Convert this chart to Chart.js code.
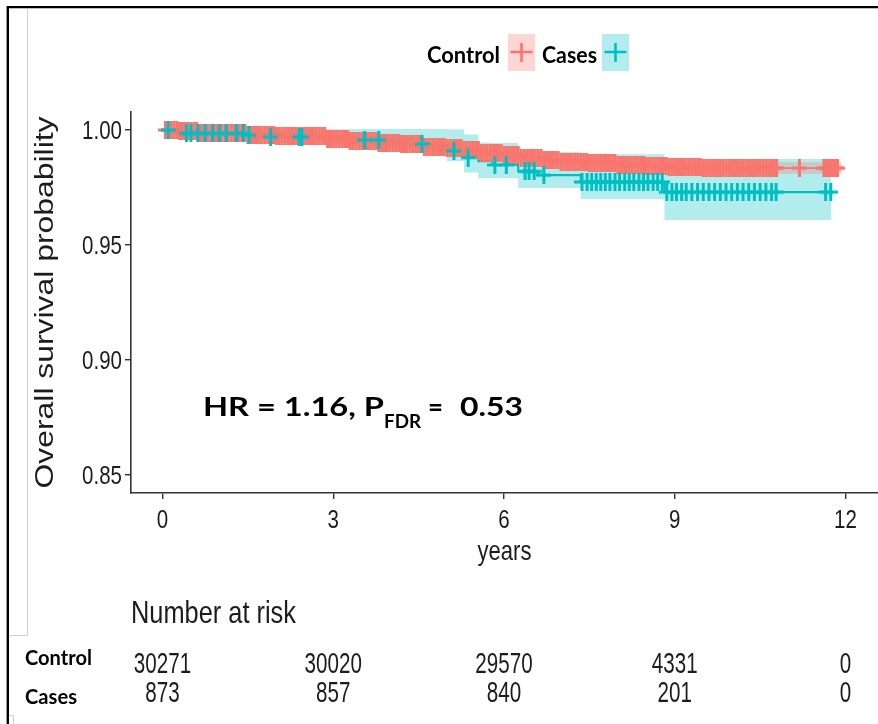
<!DOCTYPE html>
<html>
<head>
<meta charset="utf-8">
<script src="https://cdn.jsdelivr.net/npm/chart.js@4.4.0/dist/chart.umd.min.js"></script>
<style>
  html, body { margin: 0; padding: 0; background: #fff; }
  canvas { display: block; }
</style>
</head>
<body>
<canvas id="km" width="878" height="724"></canvas>
<script>
// axis ticks
const xTicks = [0, 3, 6, 9, 12];
const yTicks = [0.85, 0.90, 0.95, 1.00];

// Control: Kaplan-Meier estimate with confidence band
const ctrlTimes = [0, 0.3, 0.65, 1.0, 1.5, 2.0, 2.4, 2.9, 3.3, 3.8, 4.2, 4.6, 5.0, 5.3, 5.6, 6.0, 6.3, 6.7, 7.0, 7.5, 8.0, 8.5, 8.9, 9.5, 10.3, 10.8, 11.93];
const ctrlSurv  = [1.0, .9994, .9989, .9985, .9980, .9976, .9972, .9963, .9952, .9944, .9937, .9928, .9920, .9911, .9900, .9891, .9878, .9870, .9863, .9857, .9850, .9844, .9838, .9835, .9834, .9834, .9834];
const ctrlUpper = [1.0, .9995, .9991, .9987, .9983, .9979, .9975, .9967, .9956, .9948, .9942, .9933, .9925, .9916, .9906, .9897, .9884, .9876, .9870, .9864, .9857, .9852, .9846, .9844, .9844, .9860, .9860];
const ctrlLower = [1.0, .9993, .9987, .9983, .9977, .9973, .9969, .9959, .9948, .9940, .9932, .9923, .9915, .9906, .9894, .9885, .9872, .9864, .9856, .9850, .9843, .9836, .9830, .9826, .9824, .9810, .9810];

// Cases
const caseTimes = [0, 0.3, 1.5, 1.9, 3.4, 4.4, 5.0, 5.3, 5.55, 5.8, 6.25, 6.6, 7.35, 8.82, 11.75];
const caseSurv  = [1.0, .9985, .9977, .9970, .9957, .9939, .9909, .9880, .9865, .9848, .9820, .9804, .9774, .9730, .9730];
const caseUpper = [1.0, 1.0, 1.0, 1.0003, 1.0004, 1.0004, 1.0003, .9980, .9946, .9943, .9904, .9904, .9895, .9874, .9874];
const caseLower = [1.0, .9975, .9960, .9945, .9925, .9900, .9865, .9815, .9790, .9790, .9748, .9748, .9700, .9609, .9609];

// censoring times (marks); control is censored almost continuously
const ctrlCensor = [
  0.05, 0.1, 0.15, 0.2, 0.25, 0.3, 0.35, 0.4, 0.45, 0.5, 0.55, 0.6, 0.65, 0.7, 0.75, 0.8, 0.85, 0.9, 0.95, 1.0,
  1.05, 1.1, 1.15, 1.2, 1.25, 1.3, 1.35, 1.4, 1.45, 1.5, 1.55, 1.6, 1.65, 1.7, 1.75, 1.8, 1.85, 1.9, 1.95, 2.0,
  2.05, 2.1, 2.15, 2.2, 2.25, 2.3, 2.35, 2.4, 2.45, 2.5, 2.55, 2.6, 2.65, 2.7, 2.75, 2.8, 2.85, 2.9, 2.95, 3.0,
  3.05, 3.1, 3.15, 3.2, 3.25, 3.3, 3.35, 3.4, 3.45, 3.5, 3.55, 3.6, 3.65, 3.7, 3.75, 3.8, 3.85, 3.9, 3.95, 4.0,
  4.05, 4.1, 4.15, 4.2, 4.25, 4.3, 4.35, 4.4, 4.45, 4.5, 4.55, 4.6, 4.65, 4.7, 4.75, 4.8, 4.85, 4.9, 4.95, 5.0,
  5.05, 5.1, 5.15, 5.2, 5.25, 5.3, 5.35, 5.4, 5.45, 5.5, 5.55, 5.6, 5.65, 5.7, 5.75, 5.8, 5.85, 5.9, 5.95, 6.0,
  6.05, 6.1, 6.15, 6.2, 6.25, 6.3, 6.35, 6.4, 6.45, 6.5, 6.55, 6.6, 6.65, 6.7, 6.75, 6.8, 6.85, 6.9, 6.95, 7.0,
  7.05, 7.1, 7.15, 7.2, 7.25, 7.3, 7.35, 7.4, 7.45, 7.5, 7.55, 7.6, 7.65, 7.7, 7.75, 7.8, 7.85, 7.9, 7.95, 8.0,
  8.05, 8.1, 8.15, 8.2, 8.25, 8.3, 8.35, 8.4, 8.45, 8.5, 8.55, 8.6, 8.65, 8.7, 8.75, 8.8, 8.85, 8.9, 8.95, 9.0,
  9.05, 9.1, 9.15, 9.2, 9.25, 9.3, 9.35, 9.4, 9.45, 9.5, 9.55, 9.6, 9.65, 9.7, 9.75, 9.8, 9.85, 9.9, 9.95, 10.0,
  10.05, 10.1, 10.15, 10.2, 10.25, 10.3, 10.35, 10.4, 10.45, 10.5, 10.55, 10.6, 10.65, 10.7, 10.75, 10.79,
  11.19, 11.62, 11.66, 11.7, 11.74, 11.78, 11.82, 11.86];
const caseCensor = [0.1, 0.42, 0.5, 0.62, 0.75, 0.88, 1.0, 1.12, 1.3, 1.42, 1.52, 1.9, 2.4, 2.45, 3.55, 3.8, 4.56, 5.12, 5.37,
  5.84, 6.04, 6.37, 6.44, 6.53, 6.7, 7.37, 7.46, 7.54, 7.62, 7.7, 7.78, 7.86, 7.95, 8.03, 8.12, 8.2, 8.28, 8.37, 8.45,
  8.53, 8.62, 8.7, 8.78, 8.86, 8.95, 9.03, 9.12, 9.2, 9.3, 9.4, 9.5, 9.6, 9.7, 9.8, 9.9, 10.0, 10.1, 10.2, 10.3, 10.4,
  10.5, 10.6, 10.7, 10.78, 11.65, 11.74];

// number at risk
const riskTimes = [0, 3, 6, 9, 12];
const riskControl = [30271, 30020, 29570, 4331, 0];
const riskCases = [873, 857, 840, 201, 0];

const RED = '#F8766D', TEAL = '#00BFC4';
const RED_A = 'rgba(248,118,109,0.3)', TEAL_A = 'rgba(0,191,196,0.3)';

function stepAt(times, vals, t) {
  let v = vals[0];
  for (let i = 0; i < times.length; i++) {
    if (times[i] <= t) v = vals[i];
  }
  return v;
}
const km = (times, vals) => times.map((t, i) => ({ x: t, y: vals[i] }));
const marks = (cens, times, vals) => cens.map(t => ({ x: t, y: stepAt(times, vals, t) }));

function makeCross(color) {
  const c = document.createElement('canvas');
  c.width = 15; c.height = 18;
  const g = c.getContext('2d');
  g.strokeStyle = color;
  g.lineWidth = 3;
  g.beginPath();
  g.moveTo(0, 9); g.lineTo(15, 9);
  g.moveTo(7.5, 0); g.lineTo(7.5, 18);
  g.stroke();
  return c;
}

function squish(ctx, text, x, y, sx) {
  ctx.save();
  ctx.translate(x, y);
  ctx.scale(sx, 1);
  ctx.fillText(text, 0, 0);
  ctx.restore();
}
// draw text scaled horizontally to a target width, starting at x (left)
function fitText(ctx, text, x, y, width) {
  const w = ctx.measureText(text).width;
  ctx.save();
  ctx.textAlign = 'left';
  ctx.translate(x, y);
  ctx.scale(width / w, 1);
  ctx.fillText(text, 0, 0);
  ctx.restore();
}

const R_FONT = '"Liberation Sans", Arial, sans-serif';
const C_FONT = 'Lato, "Open Sans", sans-serif';

const decorations = {
  id: 'decorations',
  beforeDraw(chart) {
    const ctx = chart.ctx;
    ctx.save();
    ctx.fillStyle = '#fff';
    ctx.fillRect(0, 0, chart.width, chart.height);
    ctx.restore();
  },
  afterDraw(chart) {
    const { ctx, scales: { x, y }, chartArea } = chart;
    ctx.save();

    // frame lines
    ctx.strokeStyle = '#000';
    ctx.lineWidth = 2.4;
    ctx.beginPath();
    ctx.moveTo(7.8, 724); ctx.lineTo(7.8, 7.1); ctx.lineTo(878, 7.1);
    ctx.stroke();
    ctx.strokeStyle = '#cfcfcf';
    ctx.lineWidth = 1;
    ctx.beginPath();
    ctx.moveTo(27.5, 8.5); ctx.lineTo(27.5, 635.5); ctx.lineTo(9, 635.5);
    ctx.moveTo(9, 715.5); ctx.lineTo(13.5, 715.5); ctx.lineTo(13.5, 724);
    ctx.stroke();

    // tick labels
    ctx.fillStyle = '#1c1c1c';
    ctx.font = '25px ' + R_FONT;
    ctx.textBaseline = 'alphabetic';
    ctx.textAlign = 'right';
    yTicks.forEach(v => squish(ctx, v.toFixed(2), 122, y.getPixelForValue(v) + 9, 0.82));
    ctx.textAlign = 'center';
    xTicks.forEach(v => squish(ctx, String(v), x.getPixelForValue(v), 528, 0.82));

    // axis titles
    ctx.font = '28px ' + R_FONT;
    const cx = (chartArea.left + chartArea.right) / 2;
    fitText(ctx, 'years', cx - 27, 560, 54);

    ctx.save();
    ctx.font = '25px ' + R_FONT;
    ctx.translate(53, (chartArea.top + chartArea.bottom) / 2);
    ctx.rotate(-Math.PI / 2);
    fitText(ctx, 'Overall survival probability', -186, 0, 372);
    ctx.restore();

    // number at risk table
    ctx.font = '32px ' + R_FONT;
    fitText(ctx, 'Number at risk', 131, 623, 165);
    ctx.font = '29px ' + R_FONT;
    ctx.textAlign = 'center';
    riskTimes.forEach((t, i) => {
      squish(ctx, String(riskControl[i]), x.getPixelForValue(t), 673, 0.71);
      squish(ctx, String(riskCases[i]), x.getPixelForValue(t), 702, 0.71);
    });

    // bold labels
    ctx.fillStyle = '#000';
    ctx.font = 'bold 20px ' + C_FONT;
    fitText(ctx, 'Control', 25, 665, 67);
    fitText(ctx, 'Cases', 25, 704, 52);

    // legend
    ctx.font = 'bold 23px ' + C_FONT;
    fitText(ctx, 'Control', 427, 63, 73);
    fitText(ctx, 'Cases', 542, 63, 55);
    [[508, RED_A, RED], [602, TEAL_A, TEAL]].forEach(([lx, fillC, lineC]) => {
      ctx.fillStyle = fillC;
      ctx.fillRect(lx, 34, 27, 37);
      ctx.strokeStyle = lineC;
      ctx.lineWidth = 2.6;
      ctx.beginPath();
      ctx.moveTo(lx + 2.5, 52); ctx.lineTo(lx + 24.5, 52);
      ctx.moveTo(lx + 13.5, 43); ctx.lineTo(lx + 13.5, 62);
      ctx.stroke();
    });

    // hazard ratio annotation
    ctx.fillStyle = '#000';
    ctx.font = 'bold 27px ' + C_FONT;
    fitText(ctx, 'HR = 1.16, P', 203, 416, 181);
    fitText(ctx, '=', 428, 416, 15);
    fitText(ctx, '0.53', 460, 416, 63);
    ctx.font = 'bold 18px ' + C_FONT;
    fitText(ctx, 'FDR', 384, 428, 37);

    ctx.restore();
  }
};

const axisGrid = { drawOnChartArea: false, drawTicks: true, tickLength: 6, color: '#333', lineWidth: 1.4 };
const axisBorder = { color: '#333', width: 1.6 };

new Chart(document.getElementById('km'), {
  type: 'line',
  data: {
    datasets: [
      { label: 'Cases censored', data: marks(caseCensor, caseTimes, caseSurv), showLine: false,
        pointStyle: makeCross(TEAL), pointRadius: 8 },
      { label: 'Control censored', data: marks(ctrlCensor, ctrlTimes, ctrlSurv), showLine: false,
        pointStyle: makeCross(RED), pointRadius: 8 },
      { label: 'Cases', data: km(caseTimes, caseSurv), stepped: true, borderColor: TEAL, borderWidth: 2.2,
        pointRadius: 0, fill: false },
      { label: 'Control', data: km(ctrlTimes, ctrlSurv), stepped: true, borderColor: RED, borderWidth: 1.8,
        pointRadius: 0, fill: false },
      { label: 'Control upper', data: km(ctrlTimes, ctrlUpper), stepped: true, borderWidth: 0, borderColor: 'rgba(0,0,0,0)',
        pointRadius: 0, fill: '+1', backgroundColor: RED_A },
      { label: 'Control lower', data: km(ctrlTimes, ctrlLower), stepped: true, borderWidth: 0, borderColor: 'rgba(0,0,0,0)',
        pointRadius: 0, fill: false },
      { label: 'Cases upper', data: km(caseTimes, caseUpper), stepped: true, borderWidth: 0, borderColor: 'rgba(0,0,0,0)',
        pointRadius: 0, fill: '+1', backgroundColor: TEAL_A },
      { label: 'Cases lower', data: km(caseTimes, caseLower), stepped: true, borderWidth: 0, borderColor: 'rgba(0,0,0,0)',
        pointRadius: 0, fill: false }
    ]
  },
  options: {
    responsive: false,
    animation: false,
    events: [],
    layout: { autoPadding: false, padding: { left: 0, right: 0, top: 112, bottom: 0 } },
    plugins: { legend: { display: false }, tooltip: { enabled: false } },
    scales: {
      x: {
        type: 'linear', min: -0.553, max: 12.571,
        afterBuildTicks: s => { s.ticks = xTicks.map(v => ({ value: v })); },
        afterFit: s => { s.height = 724 - 493; },
        ticks: { display: false },
        grid: axisGrid, border: axisBorder
      },
      y: {
        type: 'linear', min: 0.84217, max: 1.00783,
        afterBuildTicks: s => { s.ticks = yTicks.map(v => ({ value: v })); },
        afterFit: s => { s.width = 131; },
        ticks: { display: false },
        grid: axisGrid, border: axisBorder
      }
    }
  },
  plugins: [decorations]
});
</script>
</body>
</html>
